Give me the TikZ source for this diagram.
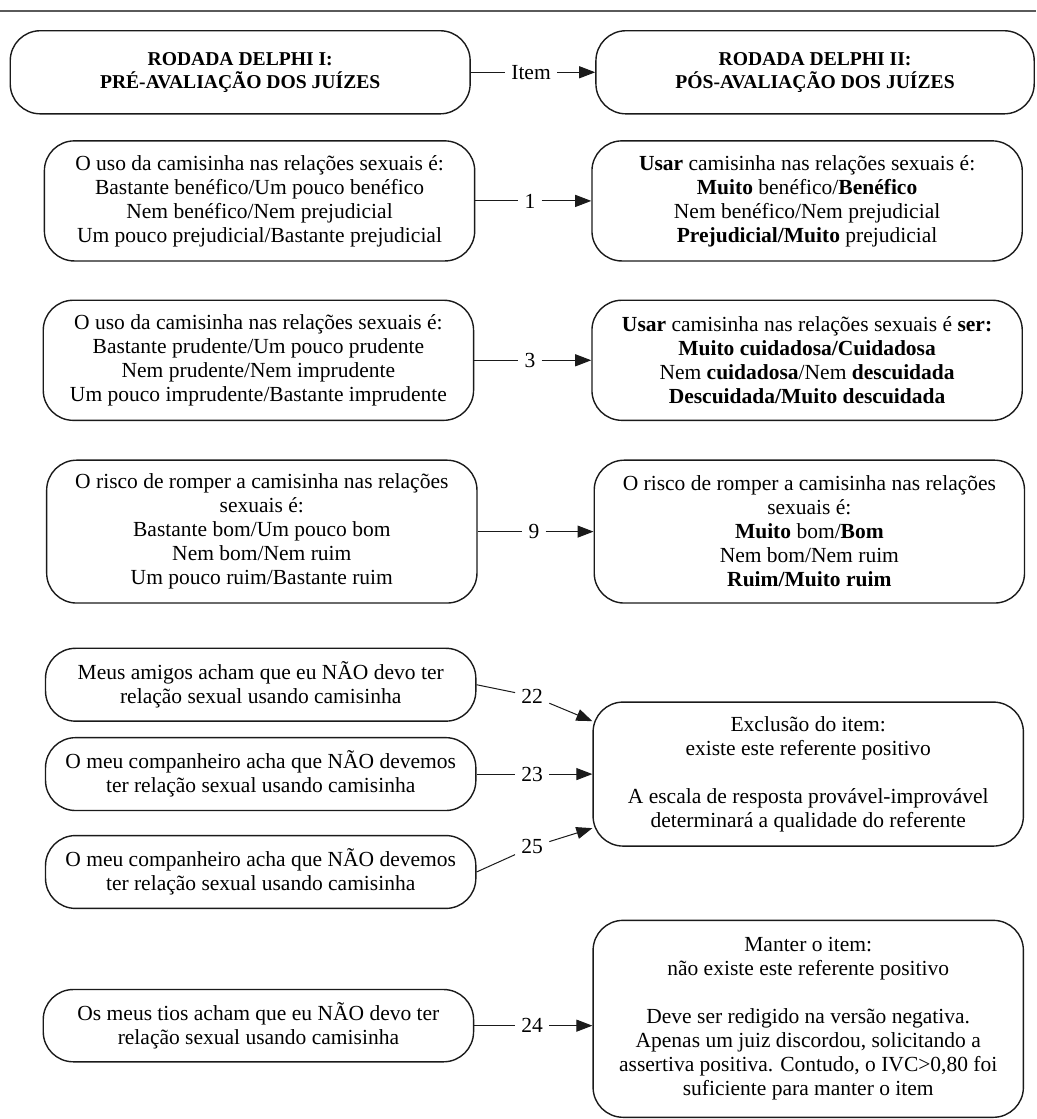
\documentclass[tikz,border=0pt]{standalone}
\usepackage{fontspec}
\setmainfont{Liberation Serif}
\usepackage{tikz}
\usepackage{xcolor}
\usetikzlibrary{arrows.meta,positioning,calc}
\definecolor{ink}{HTML}{1A1A1A}
\definecolor{rulegray}{HTML}{5A5A5A}
\tikzset{
  headbox/.style={draw=ink,line width=0.7pt,rounded corners=15pt,
                  minimum height=1.46cm,align=center,inner sep=2pt,
                  font=\fontsize{9.8}{11.5}\selectfont\bfseries},
  optbox/.style={draw=ink,line width=0.7pt,rounded corners=15pt,
                 minimum width=7.56cm,align=center,inner sep=2pt,
                 font=\fontsize{10.75}{12}\selectfont},
  numlabel/.style={inner sep=3pt,font=\fontsize{10.75}{12}\selectfont},
  flowline/.style={line width=0.5pt,color=ink},
  flowarr/.style={-{Triangle[length=8pt,width=6pt]},line width=0.5pt,color=ink}
}
\begin{document}
\begin{tikzpicture}[x=1cm,y=1cm]
  \useasboundingbox (0,0) rectangle (18.21,-19.66);
  \draw[rulegray,line width=1pt] (0,-0.19) -- (18.21,-0.19);
  % header
  \node[headbox,minimum width=8.08cm] (delphi1) at (4.22,-1.27) {RODADA DELPHI I:\\PRÉ-AVALIAÇÃO DOS JUÍZES};
  \node[headbox,minimum width=7.70cm] (delphi2) at (14.32,-1.27) {RODADA DELPHI II:\\PÓS-AVALIAÇÃO DOS JUÍZES};
  \node[numlabel] (item) at (9.33,-1.27) {Item};
  \draw[flowline] (delphi1) -- (item);
  \draw[flowarr] (item) -- (delphi2);
  % item 1
  \node[optbox,minimum height=2.11cm] (pre1) at (4.56,-3.53) {O uso da camisinha nas relações sexuais é:\\Bastante benéfico/Um pouco benéfico\\Nem benéfico/Nem prejudicial\\Um pouco prejudicial/Bastante prejudicial};
  \node[optbox,minimum height=2.11cm] (pos1) at (14.18,-3.53) {\textbf{Usar} camisinha nas relações sexuais é:\\\textbf{Muito} benéfico/\textbf{Benéfico}\\Nem benéfico/Nem prejudicial\\\textbf{Prejudicial/Muito} prejudicial};
  \node[numlabel] (n1) at (9.31,-3.53) {1};
  \draw[flowline] (pre1) -- (n1);
  \draw[flowarr] (n1) -- (pos1);
  % item 3
  \node[optbox,minimum height=2.11cm] (pre3) at (4.54,-6.33) {O uso da camisinha nas relações sexuais é:\\Bastante prudente/Um pouco prudente\\Nem prudente/Nem imprudente\\Um pouco imprudente/Bastante imprudente};
  \node[optbox,minimum height=2.11cm] (pos3) at (14.18,-6.33) {\textbf{Usar} camisinha nas relações sexuais é \textbf{ser:}\\\textbf{Muito cuidadosa/Cuidadosa}\\Nem \textbf{cuidadosa}/Nem \textbf{descuidada}\\\textbf{Descuidada/Muito descuidada}};
  \node[numlabel] (n3) at (9.31,-6.33) {3};
  \draw[flowline] (pre3) -- (n3);
  \draw[flowarr] (n3) -- (pos3);
  % item 9
  \node[optbox,minimum height=2.51cm] (pre9) at (4.60,-9.34) {O risco de romper a camisinha nas relações\\sexuais é:\\Bastante bom/Um pouco bom\\Nem bom/Nem ruim\\Um pouco ruim/Bastante ruim};
  \node[optbox,minimum height=2.51cm] (pos9) at (14.22,-9.34) {O risco de romper a camisinha nas relações\\sexuais é:\\\textbf{Muito} bom/\textbf{Bom}\\Nem bom/Nem ruim\\\textbf{Ruim/Muito ruim}};
  \node[numlabel] (n9) at (9.38,-9.34) {9};
  \draw[flowline] (pre9) -- (n9);
  \draw[flowarr] (n9) -- (pos9);
  % items 22, 23, 25
  \node[optbox,minimum height=1.28cm] (pre22) at (4.58,-12.03) {Meus amigos acham que eu NÃO devo ter\\relação sexual usando camisinha};
  \node[optbox,minimum height=1.28cm] (pre23) at (4.58,-13.60) {O meu companheiro acha que NÃO devemos\\ter relação sexual usando camisinha};
  \node[optbox,minimum height=1.28cm] (pre25) at (4.58,-15.32) {O meu companheiro acha que NÃO devemos\\ter relação sexual usando camisinha};
  \node[optbox,minimum height=2.53cm] (exclude) at (14.20,-13.60) {Exclusão do item:\\existe este referente positivo\\[12pt]A escala de resposta provável-improvável\\determinará a qualidade do referente};
  \node[numlabel] (n22) at (9.35,-12.23) {22};
  \node[numlabel] (n23) at (9.35,-13.60) {23};
  \node[numlabel] (n25) at (9.35,-14.88) {25};
  \coordinate (in22) at ($(exclude.west)+(0,0.93)$);
  \coordinate (in25) at ($(exclude.west)+(0,-0.95)$);
  \draw[flowline] (pre22.east) -- (n22);
  \draw[flowarr] (n22) -- (in22);
  \draw[flowline] (pre23) -- (n23);
  \draw[flowarr] (n23) -- (exclude);
  \draw[flowline] (pre25.east) -- (n25);
  \draw[flowarr] (n25) -- (in25);
  % item 24
  \node[optbox,minimum height=1.27cm] (pre24) at (4.54,-18.02) {Os meus tios acham que eu NÃO devo ter\\relação sexual usando camisinha};
  \node[optbox,minimum height=3.46cm] (keep) at (14.20,-17.90) {Manter o item:\\não existe este referente positivo\\[12pt]Deve ser redigido na versão negativa.\\Apenas um juiz discordou, solicitando a\\assertiva positiva. Contudo, o IVC>0,80 foi\\suficiente para manter o item};
  \node[numlabel] (n24) at (9.35,-18.02) {24};
  \draw[flowline] (pre24) -- (n24);
  \draw[flowarr] (n24) -- (n24 -| keep.west);
\end{tikzpicture}
\end{document}
